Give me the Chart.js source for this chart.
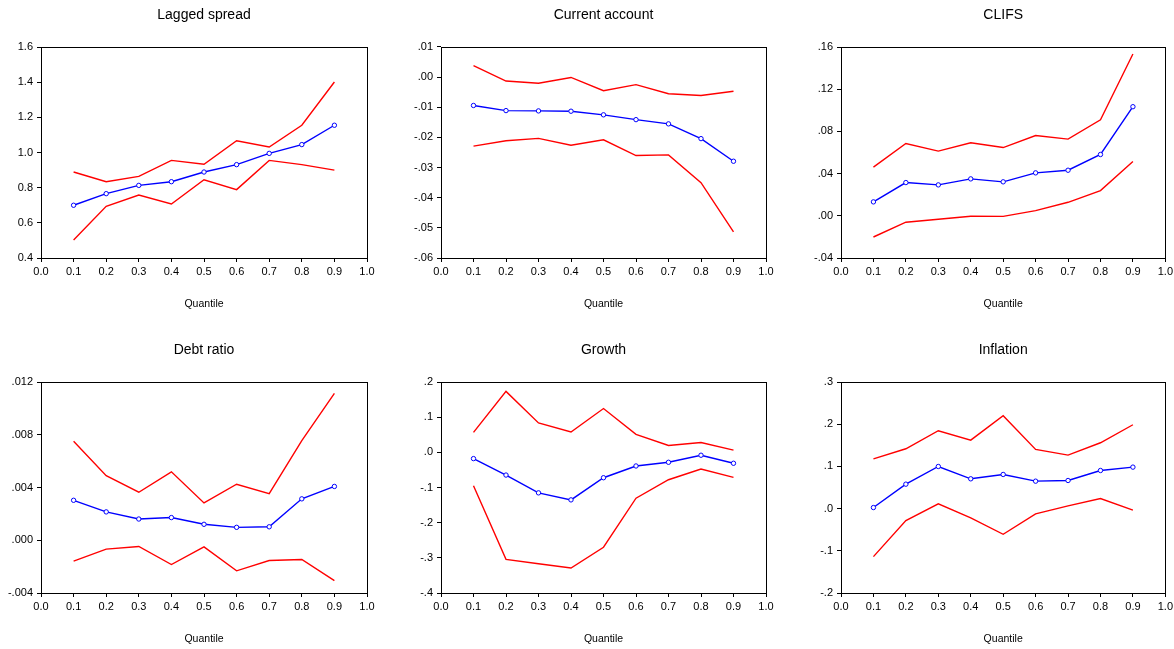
<!DOCTYPE html>
<html>
<head>
<meta charset="utf-8">
<script src="https://cdn.jsdelivr.net/npm/chart.js@4"></script>
<style>
html,body{margin:0;padding:0;background:#fff;width:1174px;height:649px;overflow:hidden;position:relative;}
canvas{position:absolute;}
</style>
</head>
<body>
<canvas id="c0" width="390" height="314" style="left:0px;top:0px"></canvas>
<canvas id="c1" width="390" height="314" style="left:395px;top:0px"></canvas>
<canvas id="c2" width="386" height="314" style="left:790px;top:0px"></canvas>
<canvas id="c3" width="390" height="314" style="left:0px;top:335px"></canvas>
<canvas id="c4" width="390" height="314" style="left:395px;top:335px"></canvas>
<canvas id="c5" width="386" height="314" style="left:790px;top:335px"></canvas>
<script>
// ---- data ----
const quantiles = [0.1,0.2,0.3,0.4,0.5,0.6,0.7,0.8,0.9];
const titles = ["Lagged spread","Current account","CLIFS","Debt ratio","Growth","Inflation"];
const xTitle = "Quantile";

const laggedEst   = [0.700,0.766,0.813,0.834,0.889,0.931,0.995,1.045,1.155];
const laggedUpper = [0.889,0.834,0.864,0.955,0.933,1.067,1.031,1.155,1.401];
const laggedLower = [0.502,0.694,0.758,0.707,0.845,0.789,0.955,0.931,0.900];

const currEst   = [-0.0094,-0.0111,-0.0112,-0.0113,-0.0125,-0.0141,-0.0155,-0.0204,-0.0279];
const currUpper = [0.0038,-0.0013,-0.0020,-0.0001,-0.0045,-0.0025,-0.0055,-0.0061,-0.0047];
const currLower = [-0.0229,-0.0211,-0.0203,-0.0226,-0.0208,-0.0260,-0.0258,-0.0350,-0.0513];

const clifsEst   = [0.0132,0.0315,0.0293,0.0350,0.0322,0.0407,0.0432,0.0581,0.1034];
const clifsUpper = [0.0461,0.0685,0.0613,0.0692,0.0647,0.0761,0.0727,0.0910,0.1534];
const clifsLower = [-0.0201,-0.0061,-0.0033,-0.0004,-0.0005,0.0049,0.0128,0.0239,0.0515];

const debtEst   = [0.00303,0.00215,0.00161,0.00172,0.00121,0.00098,0.00102,0.00314,0.00408];
const debtUpper = [0.00750,0.00490,0.00364,0.00519,0.00283,0.00425,0.00354,0.00756,0.01114];
const debtLower = [-0.00159,-0.00067,-0.00047,-0.00184,-0.00050,-0.00232,-0.00154,-0.00146,-0.00306];

const growthEst   = [-0.0178,-0.0646,-0.1152,-0.1352,-0.0722,-0.0388,-0.0283,-0.0082,-0.0311];
const growthUpper = [0.0567,0.1733,0.0835,0.0577,0.1245,0.0510,0.0195,0.0281,0.0061];
const growthLower = [-0.0951,-0.3043,-0.3167,-0.3291,-0.2699,-0.1305,-0.0779,-0.0474,-0.0713];

const inflEst   = [0.0025,0.0579,0.0998,0.0706,0.0809,0.0650,0.0666,0.0903,0.0983];
const inflUpper = [0.1180,0.1418,0.1845,0.1623,0.2201,0.1402,0.1267,0.1560,0.1987];
const inflLower = [-0.1138,-0.0283,0.0112,-0.0220,-0.0608,-0.0125,0.0065,0.0239,-0.0038];

// y axis ranges: [min, max, step, decimals, keepLeadingZero]
const yRanges = [
  [0.4, 1.6, 0.2, 1, true],
  [-0.06, 0.01, 0.01, 2, false],
  [-0.04, 0.16, 0.04, 2, false],
  [-0.004, 0.012, 0.004, 3, false],
  [-0.4, 0.2, 0.1, 1, false],
  [-0.2, 0.3, 0.1, 1, false]
];
const xTicks = [0,0.1,0.2,0.3,0.4,0.5,0.6,0.7,0.8,0.9,1.0];

const panels = [
  [laggedEst, laggedUpper, laggedLower],
  [currEst, currUpper, currLower],
  [clifsEst, clifsUpper, clifsLower],
  [debtEst, debtUpper, debtLower],
  [growthEst, growthUpper, growthLower],
  [inflEst, inflUpper, inflLower]
];

// ---- layout ----
const yAxisW = [41,46,51,41,46,51];
const padRight = [23,19,10,23,19,10];
const FONT = "'Liberation Sans',Arial,sans-serif";

function fmtY(v, dec, keepZero){
  let s = Math.abs(v).toFixed(dec);
  if(!keepZero && s.startsWith("0")) s = s.slice(1);
  if(v < -1e-12) s = "-" + s;
  return s;
}
const frame = {
  id:'frame',
  afterDraw(chart){
    const a = chart.chartArea, ctx = chart.ctx;
    ctx.save();
    ctx.strokeStyle = '#000';
    ctx.lineWidth = 1;
    ctx.strokeRect(Math.round(a.left)+0.5, Math.round(a.top)+0.5, Math.round(a.right-a.left), Math.round(a.bottom-a.top));
    ctx.restore();
  }
};

function pts(arr){ return arr.map((v,i)=>({x:quantiles[i], y:v})); }

panels.forEach((p, i) => {
  const r = yRanges[i];
  new Chart(document.getElementById('c'+i), {
    type:'line',
    data:{
      datasets:[
        {data:pts(p[1]), borderColor:'#ff0000', borderWidth:1.4, pointRadius:0, tension:0},
        {data:pts(p[2]), borderColor:'#ff0000', borderWidth:1.4, pointRadius:0, tension:0},
        {data:pts(p[0]), borderColor:'#0000ff', borderWidth:1.4, pointRadius:2.2,
         pointBorderWidth:1, pointBorderColor:'#0000ff', pointBackgroundColor:'#ffffff', tension:0}
      ]
    },
    options:{
      responsive:false,
      animation:false,
      events:[],
      layout:{padding:{left:0,right:padRight[i],top:0,bottom:0}},
      plugins:{
        legend:{display:false},
        tooltip:{enabled:false},
        title:{display:false}
      },
      scales:{
        top:{
          type:'linear', position:'top', min:0, max:1,
          afterFit(s){ s.height = 47; },
          border:{display:false},
          grid:{display:false},
          ticks:{display:false},
          title:{display:true, text:titles[i], color:'#000',
            font:{family:FONT, size:14, weight:'normal'}, padding:{top:6.5,bottom:0}}
        },
        x:{
          type:'linear', position:'bottom', min:0, max:1,
          afterFit(s){ s.height = 56; },
          afterBuildTicks(s){ s.ticks = xTicks.map(v=>({value:v})); },
          border:{display:false},
          grid:{display:true, drawOnChartArea:false, drawTicks:true, tickLength:4, color:'#000', lineWidth:1},
          ticks:{color:'#000', padding:3, maxRotation:0, autoSkip:false,
            font:{family:FONT, size:11},
            callback:(v)=>Number(v).toFixed(1)},
          title:{display:true, text:xTitle, color:'#000',
            font:{family:FONT, size:10.5}, padding:{top:0,bottom:4}}
        },
        y:{
          type:'linear', min:r[0], max:r[1],
          afterFit(s){ s.width = yAxisW[i]; },
          afterBuildTicks(s){
            const t=[]; const n=Math.round((r[1]-r[0])/r[2]);
            for(let k=0;k<=n;k++) t.push({value: r[0]+k*r[2]});
            s.ticks=t;
          },
          border:{display:false},
          grid:{display:true, drawOnChartArea:false, drawTicks:true, tickLength:4, color:'#000', lineWidth:1},
          ticks:{color:'#000', padding:4, autoSkip:false,
            font:{family:FONT, size:11},
            callback:(v)=>fmtY(v, r[3], r[4])}
        }
      }
    },
    plugins:[frame]
  });
});
</script>
</body>
</html>
